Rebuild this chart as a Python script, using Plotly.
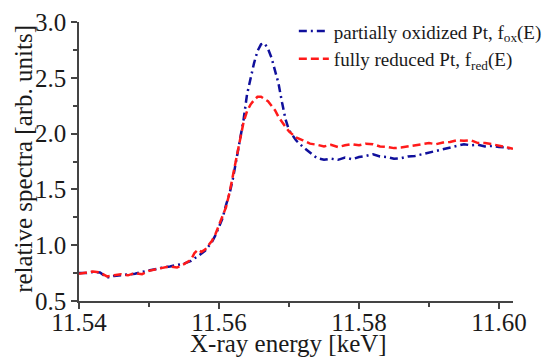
import plotly.graph_objects as go

energy_kev = [
    11.540, 11.541, 11.542, 11.543, 11.544, 11.545, 11.546, 11.547, 11.548, 11.549,
    11.550, 11.551, 11.552, 11.553, 11.554, 11.555, 11.556, 11.5565, 11.557, 11.5575,
    11.558, 11.559, 11.5595, 11.560, 11.5605, 11.561, 11.5615, 11.562, 11.5625, 11.563,
    11.5635, 11.564, 11.5645, 11.565, 11.5655, 11.566, 11.5665, 11.567, 11.5675, 11.568,
    11.5685, 11.569, 11.5695, 11.570, 11.5705, 11.571, 11.572, 11.573, 11.574, 11.575,
    11.576, 11.577, 11.578, 11.579, 11.580, 11.581, 11.582, 11.583, 11.584, 11.585,
    11.586, 11.587, 11.588, 11.589, 11.590, 11.591, 11.592, 11.593, 11.594, 11.595,
    11.596, 11.597, 11.598, 11.599, 11.600, 11.601, 11.602,
]

f_ox = [
    0.75, 0.75, 0.76, 0.755, 0.71, 0.725, 0.73, 0.735, 0.745, 0.76,
    0.775, 0.79, 0.80, 0.81, 0.82, 0.835, 0.86, 0.88, 0.90, 0.925,
    0.95, 1.03, 1.09, 1.16, 1.24, 1.36, 1.46, 1.60, 1.78, 1.95,
    2.12, 2.35, 2.50, 2.63, 2.74, 2.80, 2.81, 2.76, 2.68, 2.57,
    2.45, 2.28, 2.13, 2.03, 1.98, 1.94, 1.88, 1.83, 1.78, 1.765,
    1.775, 1.765, 1.785, 1.77, 1.79, 1.80, 1.815, 1.795, 1.79, 1.775,
    1.78, 1.795, 1.80, 1.815, 1.83, 1.85, 1.865, 1.875, 1.89, 1.905,
    1.895, 1.90, 1.885, 1.89, 1.88, 1.875, 1.86,
]

f_red = [
    0.745, 0.755, 0.765, 0.755, 0.72, 0.73, 0.74, 0.73, 0.75, 0.74,
    0.77, 0.785, 0.80, 0.81, 0.80, 0.83, 0.87, 0.93, 0.96, 0.94,
    0.96, 1.04, 1.10, 1.18, 1.25, 1.34, 1.47, 1.63, 1.80, 1.95,
    2.10, 2.20, 2.26, 2.30, 2.33, 2.33, 2.31, 2.29, 2.25, 2.21,
    2.15, 2.10, 2.06, 2.02, 1.99, 1.965, 1.94, 1.91, 1.90, 1.885,
    1.90, 1.88, 1.895, 1.905, 1.895, 1.91, 1.905, 1.885, 1.88, 1.87,
    1.875, 1.885, 1.90, 1.905, 1.915, 1.905, 1.92, 1.925, 1.94, 1.935,
    1.94, 1.915, 1.915, 1.905, 1.89, 1.88, 1.865,
]

x_ticks = [11.54, 11.56, 11.58, 11.60]
x_tick_labels = ["11.54", "11.56", "11.58", "11.60"]
y_ticks = [0.5, 1.0, 1.5, 2.0, 2.5, 3.0]
y_tick_labels = ["0.5", "1.0", "1.5", "2.0", "2.5", "3.0"]
x_title = "X-ray energy [keV]"
y_title = "relative spectra [arb. units]"

FONT = "'Liberation Serif', 'DejaVu Serif', serif"
AXC = "#444444"
TXT = "#1a1a1a"

fig = go.Figure()
fig.add_trace(go.Scatter(
    x=energy_kev, y=f_ox, mode="lines",
    name="partially oxidized Pt, f<sub>ox</sub>(E)",
    line=dict(color="#10109c", width=2.5, dash="8px,4px,2px,4px"),
))
fig.add_trace(go.Scatter(
    x=energy_kev, y=f_red, mode="lines",
    name="fully reduced Pt, f<sub>red</sub>(E)",
    line=dict(color="#ff1a1a", width=2.5, dash="8px,4px"),
))

fig.update_layout(
    width=559, height=359,
    margin=dict(l=79, r=14, t=20, b=58),
    paper_bgcolor="white", plot_bgcolor="white",
    font=dict(family=FONT, size=25, color=TXT),
    showlegend=True,
    legend=dict(
        x=0.495, y=1.035, xanchor="left", yanchor="top",
        bgcolor="rgba(0,0,0,0)", font=dict(size=19, family=FONT, color=TXT),
        itemwidth=30, tracegroupgap=0,
    ),
    annotations=[
        dict(text=x_title, xref="paper", yref="paper", x=0.482, y=-0.152,
             xanchor="center", yanchor="middle", showarrow=False,
             font=dict(size=25, family=FONT, color=TXT)),
        dict(text=y_title, xref="paper", yref="paper", x=-0.127, y=0.509,
             xanchor="center", yanchor="middle", showarrow=False, textangle=-90,
             font=dict(size=25, family=FONT, color=TXT)),
    ],
)
fig.update_xaxes(
    range=[11.54, 11.602], tickvals=x_ticks, ticktext=x_tick_labels,
    showline=True, linecolor=AXC, linewidth=1.5, mirror=False,
    ticks="outside", ticklen=6, tickwidth=1.5, tickcolor=AXC,
    minor=dict(ticks="outside", ticklen=4, tickwidth=1.5, tickcolor=AXC, dtick=0.01, showgrid=False),
    showgrid=False, zeroline=False, automargin=False, ticklabelstandoff=-8,
    tickfont=dict(size=25, family=FONT, color=TXT),
)
fig.update_yaxes(
    range=[0.5, 3.0], tickvals=y_ticks, ticktext=y_tick_labels,
    showline=True, linecolor=AXC, linewidth=1.5, mirror=False,
    ticks="outside", ticklen=6, tickwidth=1.5, tickcolor=AXC,
    minor=dict(ticks="outside", ticklen=4, tickwidth=1.5, tickcolor=AXC, dtick=0.25, showgrid=False),
    showgrid=False, zeroline=False, automargin=False,
    tickfont=dict(size=25, family=FONT, color=TXT),
)

fig.write_html("out.html")
